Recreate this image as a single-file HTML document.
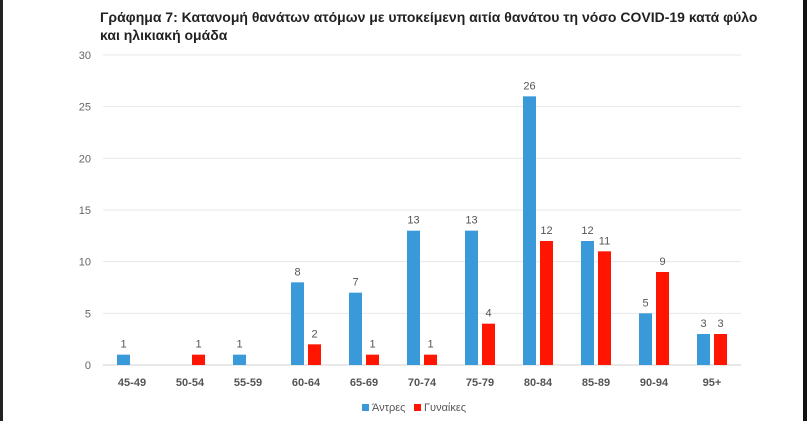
<!DOCTYPE html>
<html><head><meta charset="utf-8"><style>
body{margin:0;background:#fff;width:807px;height:421px;overflow:hidden;font-family:"Liberation Sans","DejaVu Sans",sans-serif}
</style></head><body>
<svg width="807" height="421" xmlns="http://www.w3.org/2000/svg">
<rect x="0" y="0" width="3" height="421" fill="#222"/>
<rect x="803" y="0" width="4" height="421" fill="#111"/>
<text x="100" y="22" font-size="14" font-weight="bold" fill="#222">Γράφημα 7: Κατανομή θανάτων ατόμων με υποκείμενη αιτία θανάτου τη νόσο COVID-19 κατά φύλο</text>
<text x="100" y="40" font-size="14" font-weight="bold" fill="#222">και ηλικιακή ομάδα</text>
<g id="grid"></g><g id="bars"></g><g id="labels"></g>
<g>
<rect x="362" y="404" width="7" height="7" fill="#3a9ad9"/>
<text x="372" y="411" font-size="11" fill="#555">Άντρες</text>
<rect x="414" y="404" width="7" height="7" fill="#ff1500"/>
<text x="424" y="411" font-size="11" fill="#555">Γυναίκες</text>
</g>
</svg>
<script>
const categories=["45-49","50-54","55-59","60-64","65-69","70-74","75-79","80-84","85-89","90-94","95+"];
const men=[1,0,1,8,7,13,13,26,12,5,3];
const women=[0,1,0,2,1,1,4,12,11,9,3];
const yTicks=[0,5,10,15,20,25,30];
const NS="http://www.w3.org/2000/svg";
const x0=103,x1=741,yBase=365,yTop=55,yMax=30;
const bw=(x1-x0)/categories.length;
const y=v=>yBase-(v/yMax)*(yBase-yTop);
function mk(t,a,p){const e=document.createElementNS(NS,t);for(const k in a)e.setAttribute(k,a[k]);document.getElementById(p).appendChild(e);return e;}
yTicks.forEach(t=>{
 const l=mk("line",{x1:x0,x2:x1,y1:y(t),y2:y(t),stroke:t===0?"#d0d0d0":"#e8e8e8","stroke-width":1},"grid");
 
 
 const tx=mk("text",{x:91,y:y(t)+4,"font-size":11,fill:"#666","text-anchor":"end"},"grid");
 tx.textContent=t;
 
 
});
categories.forEach((c,i)=>{
 const cx=x0+bw*(i+0.5);
 const ct=mk("text",{x:cx,y:386,"font-size":11,fill:"#555","text-anchor":"middle","font-weight":"bold"},"labels");
 ct.textContent=c;
 
 
 [[men[i],cx-15,"#3a9ad9","bar-men"],[women[i],cx+2,"#ff1500","bar-women"]].forEach(([v,bx,col,nm])=>{
  if(!v)return;
  const r=mk("rect",{x:bx,y:y(v),width:13,height:yBase-y(v),fill:col},"bars");
  
  
  const vt=mk("text",{x:bx+6.5,y:y(v)-7,"font-size":11,fill:"#555","text-anchor":"middle"},"labels");
  vt.textContent=v;
  
  
 });
});
</script>
</body></html>
